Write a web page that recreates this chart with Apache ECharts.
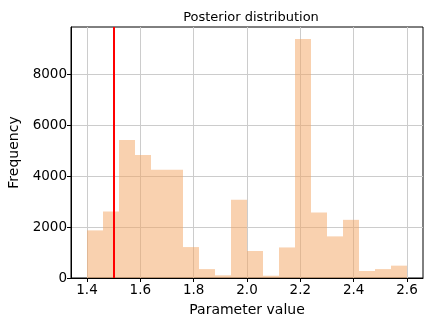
<!DOCTYPE html>
<html>
<head>
<meta charset="utf-8">
<script src="https://cdn.jsdelivr.net/npm/echarts@6/dist/echarts.min.js"></script>
<style>html,body{margin:0;padding:0;background:#fff}#c{width:436px;height:327px}</style>
</head>
<body>
<div id="c"></div>
<script>
// Histogram bins (left edges), bin width, and counts
const binStarts = [1.40,1.46,1.52,1.58,1.64,1.70,1.76,1.82,1.88,1.94,2.00,2.06,2.12,2.18,2.24,2.30,2.36,2.42,2.48,2.54];
const binWidth = 0.06;
const counts = [1870,2610,5420,4830,4250,4250,1215,350,105,3070,1060,90,1200,9390,2575,1635,2285,275,350,485];
const xTicks = [1.4,1.6,1.8,2.0,2.2,2.4,2.6];
const yTicks = [0,2000,4000,6000,8000];
const trueValue = 1.5;

const font = 'DejaVu Sans';
const histData = binStarts.map((s, i) => [s, s + binWidth, counts[i]]);

const chart = echarts.init(document.getElementById('c'), null, {renderer: 'canvas'});
chart.setOption({
  animation: false,
  backgroundColor: '#fff',
  title: {
    text: 'Posterior distribution',
    left: 246, top: 6, textAlign: 'center',
    textStyle: {fontFamily: font, fontSize: 13, fontWeight: 'normal', color: '#000'}
  },
  grid: {left: 71, right: 13, top: 27, bottom: 49, containLabel: false, outerBoundsMode: 'none',
    show: true, borderColor: '#000', borderWidth: 1, backgroundColor: 'transparent'},
  xAxis: {
    type: 'value', min: 1.34, max: 2.66,
    name: 'Parameter value', nameLocation: 'middle', nameGap: 25,
    nameTextStyle: {fontFamily: font, fontSize: 14, color: '#000'},
    axisLine: {show: true, onZero: false, lineStyle: {color: '#000', width: 1}},
    axisTick: {show: true, length: 4, lineStyle: {color: '#000'}, customValues: xTicks},
    axisLabel: {customValues: xTicks, fontFamily: font, fontSize: 13.5, color: '#000', margin: 5,
      formatter: v => v.toFixed(1)},
    splitLine: {show: true, lineStyle: {color: '#cccccc', width: 1}}
  },
  yAxis: {
    type: 'value', min: 0, max: 9860,
    name: 'Frequency', nameLocation: 'middle', nameGap: 49, nameRotate: 90,
    nameTextStyle: {fontFamily: font, fontSize: 14, color: '#000'},
    axisLine: {show: true, lineStyle: {color: '#000', width: 1}},
    axisTick: {show: true, length: 4, lineStyle: {color: '#000'}, customValues: yTicks},
    axisLabel: {customValues: yTicks, fontFamily: font, fontSize: 13.5, color: '#000', margin: 4,
      formatter: v => String(Math.round(v))},
    splitLine: {show: true, lineStyle: {color: '#cccccc', width: 1}}
  },
  series: [{
    type: 'custom',
    data: histData,
    encode: {x: [0, 1], y: 2},
    renderItem: function (params, api) {
      const p0 = api.coord([api.value(0), 0]);
      const p1 = api.coord([api.value(1), api.value(2)]);
      return {
        type: 'rect',
        shape: {x: p0[0], y: p1[1], width: p1[0] - p0[0], height: p0[1] - p1[1]},
        style: {fill: 'rgba(244,164,96,0.5)'}
      };
    },
    z: 2,
    markLine: {
      silent: true, symbol: 'none', label: {show: false},
      lineStyle: {color: '#ff0000', width: 2, type: 'solid'},
      data: [{xAxis: trueValue}]
    }
  }]
});
</script>
</body>
</html>
